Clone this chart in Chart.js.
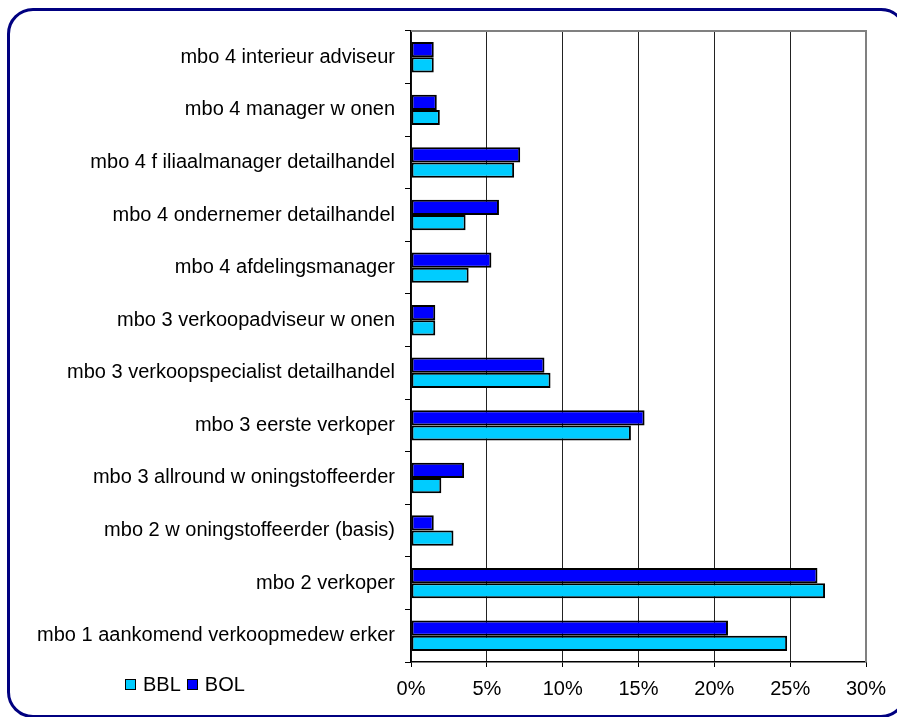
<!DOCTYPE html>
<html>
<head>
<meta charset="utf-8">
<script src="https://cdn.jsdelivr.net/npm/chart.js@4/dist/chart.umd.min.js"></script>
<style>
    html, body { margin: 0; padding: 0; background: #fff; }
    #wrap { position: relative; width: 897px; height: 717px; overflow: hidden; }
    #frame {
        position: absolute; left: 7px; top: 8px; width: 900px; height: 710px;
        border: 3px solid #000080; border-radius: 26px; box-sizing: border-box;
    }
    #chart { position: absolute; left: 0; top: 0; }
    #legend {
        position: absolute; left: 125px; top: 673px;
        font: 20px "Liberation Sans", Arial, sans-serif; color: #000;
    }
    #legend span.box {
        display: inline-block; width: 9px; height: 9px; border: 1.5px solid #000;
        margin-right: 7px; vertical-align: 1px;
    }
    #legend span.item { margin-right: 6px; }
</style>
</head>
<body>
<div id="wrap">
    <div id="frame"></div>
    <canvas id="chart" width="897" height="717"></canvas>
    <div id="legend"></div>
</div>
<script>
const categories = [
    "mbo 4 interieur adviseur",
    "mbo 4 manager w onen",
    "mbo 4 f iliaalmanager detailhandel",
    "mbo 4 ondernemer detailhandel",
    "mbo 4 afdelingsmanager",
    "mbo 3 verkoopadviseur w onen",
    "mbo 3 verkoopspecialist detailhandel",
    "mbo 3 eerste verkoper",
    "mbo 3 allround w oningstoffeerder",
    "mbo 2 w oningstoffeerder (basis)",
    "mbo 2 verkoper",
    "mbo 1 aankomend verkoopmedew erker"
];
const bolValues = [1.5, 1.7, 7.2, 5.8, 5.3, 1.6, 8.8, 15.4, 3.5, 1.5, 26.8, 20.9];
const bblValues = [1.5, 1.9, 6.8, 3.6, 3.8, 1.6, 9.2, 14.5, 2.0, 2.8, 27.3, 24.8];
const tickValues = [0, 5, 10, 15, 20, 25, 30];

const seriesNames = ['BBL', 'BOL'];
const seriesColors = { BBL: '#00CCFF', BOL: '#0000FF' };

// legend in the bottom left corner, BBL first
const legend = document.getElementById('legend');
seriesNames.forEach(name => {
    const item = document.createElement('span');
    item.className = 'item';
    item.innerHTML = `<span class="box" style="background:${seriesColors[name]}"></span>${name}`;
    legend.appendChild(item);
});

// grey plot border on top and right
const plotBorder = {
    id: 'plotBorder',
    afterDatasetsDraw(chart) {
        const { ctx, chartArea: a } = chart;
        ctx.save();
        ctx.strokeStyle = '#808080';
        ctx.lineWidth = 2;
        ctx.beginPath();
        ctx.moveTo(a.left, a.top);
        ctx.lineTo(a.right, a.top);
        ctx.lineTo(a.right, a.bottom);
        ctx.stroke();
        ctx.restore();
    }
};

const font = { family: '"Liberation Sans", Arial, sans-serif', size: 20 };

new Chart(document.getElementById('chart'), {
    type: 'bar',
    data: {
        labels: categories,
        datasets: [
            {
                label: 'BOL',
                data: bolValues,
                backgroundColor: seriesColors.BOL,
                borderColor: '#000',
                borderWidth: 2,
                borderSkipped: false
            },
            {
                label: 'BBL',
                data: bblValues,
                backgroundColor: seriesColors.BBL,
                borderColor: '#000',
                borderWidth: 2,
                borderSkipped: false
            }
        ]
    },
    options: {
        indexAxis: 'y',
        responsive: false,
        animation: false,
        categoryPercentage: 0.58,
        barPercentage: 1.0,
        layout: { padding: { top: 31, right: 31, left: 0, bottom: 0 } },
        scales: {
            x: {
                min: 0,
                max: 30,
                afterBuildTicks(axis) {
                    axis.ticks = tickValues.map(v => ({ value: v }));
                },
                afterFit(axis) { axis.height = 55; },
                grid: { color: '#222', lineWidth: 1, tickLength: 5, tickColor: '#000' },
                border: { color: '#000', width: 1.5 },
                ticks: {
                    font: font,
                    color: '#000',
                    padding: 10,
                    maxRotation: 0,
                    callback: v => v + '%'
                }
            },
            y: {
                afterFit(axis) { axis.width = 411; },
                grid: { drawOnChartArea: false, tickLength: 6, tickColor: '#000', offset: true },
                border: { color: '#000', width: 1.5 },
                ticks: { font: font, color: '#000', padding: 10 }
            }
        },
        plugins: {
            legend: { display: false },
            tooltip: { enabled: false }
        }
    },
    plugins: [plotBorder]
});
</script>
</body>
</html>
